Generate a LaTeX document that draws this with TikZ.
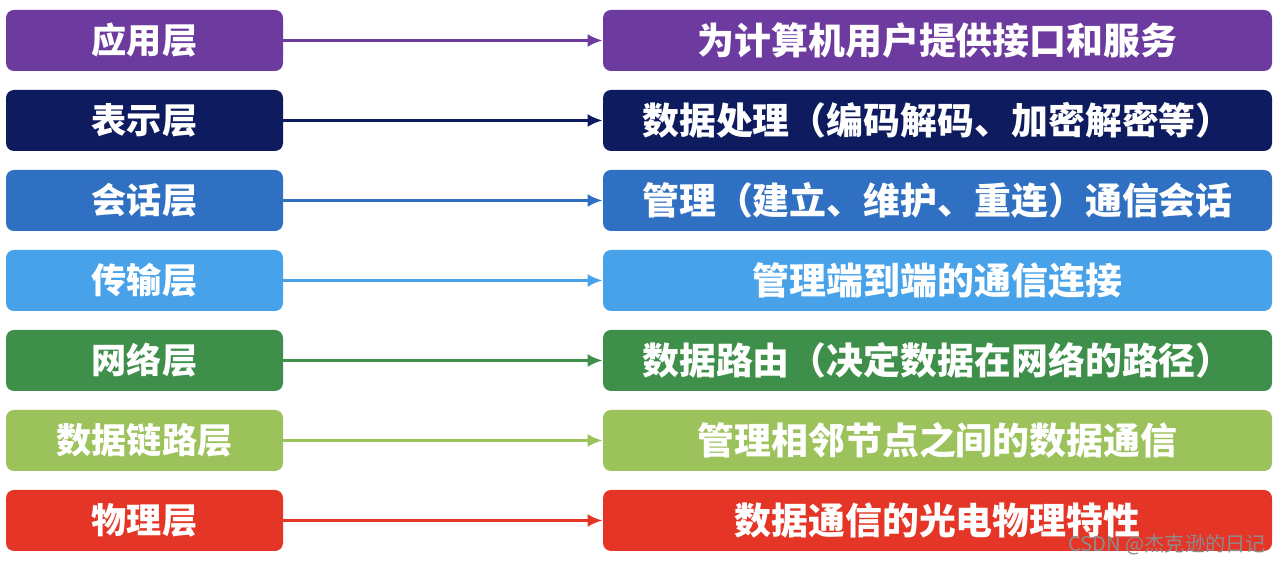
\documentclass[tikz,border=0pt]{standalone}
\usepackage{fontspec}
\newfontfamily\cjk{Noto Sans CJK SC}
\usetikzlibrary{arrows.meta}

\definecolor{lpurp}{HTML}{6D3B9F}
\definecolor{lnavy}{HTML}{0E1C5F}
\definecolor{lblue}{HTML}{2F70C2}
\definecolor{lsky}{HTML}{47A2EA}
\definecolor{lgreen}{HTML}{3E8F49}
\definecolor{llime}{HTML}{9CC25C}
\definecolor{lred}{HTML}{E43526}

\begin{document}
\begin{tikzpicture}[
    layer/.style={rectangle, rounded corners=0.16cm, minimum width=5.54cm, minimum height=1.22cm,
        text=white, font=\cjk\bfseries\fontsize{20}{22}\selectfont},
    duty/.style={layer, minimum width=13.38cm, font=\cjk\bfseries\fontsize{21}{24}\selectfont},
    link/.style={line width=1.7pt, -{Latex[length=3mm,width=2.6mm]}}
]
        \useasboundingbox (0,0) rectangle (25.6,11.3);
        % left column
        \node[layer, fill=lpurp] (app) at (2.89,10.49) {应用层};
        \node[layer, fill=lnavy] (pres) at (2.89,8.89) {表示层};
        \node[layer, fill=lblue] (sess) at (2.89,7.29) {会话层};
        \node[layer, fill=lsky] (trans) at (2.89,5.69) {传输层};
        \node[layer, fill=lgreen] (net) at (2.89,4.09) {网络层};
        \node[layer, fill=llime] (dlink) at (2.89,2.49) {数据链路层};
        \node[layer, fill=lred] (phys) at (2.89,0.89) {物理层};
        % right column
        \node[duty, fill=lpurp] (appD) at (18.75,10.49) {为计算机用户提供接口和服务};
        \node[duty, fill=lnavy] (presD) at (18.75,8.89) {数据处理（编码解码、加密解密等）};
        \node[duty, fill=lblue] (sessD) at (18.75,7.29) {管理（建立、维护、重连）通信会话};
        \node[duty, fill=lsky] (transD) at (18.75,5.69) {管理端到端的通信连接};
        \node[duty, fill=lgreen] (netD) at (18.75,4.09) {数据路由（决定数据在网络的路径）};
        \node[duty, fill=llime] (dlinkD) at (18.75,2.49) {管理相邻节点之间的数据通信};
        \node[duty, fill=lred] (physD) at (18.75,0.89) {数据通信的光电物理特性};
        % arrows
        \draw[link, lpurp] (app) -- (appD);
        \draw[link, lnavy] (pres) -- (presD);
        \draw[link, lblue] (sess) -- (sessD);
        \draw[link, lsky] (trans) -- (transD);
        \draw[link, lgreen] (net) -- (netD);
        \draw[link, llime] (dlink) -- (dlinkD);
        \draw[link, lred] (phys) -- (physD);
        \node[text=black!45, font=\cjk\fontsize{11.5}{13}\selectfont] (mark) at (23.34,0.4) {CSDN @杰克逊的日记};
    \end{tikzpicture}
\end{document}
